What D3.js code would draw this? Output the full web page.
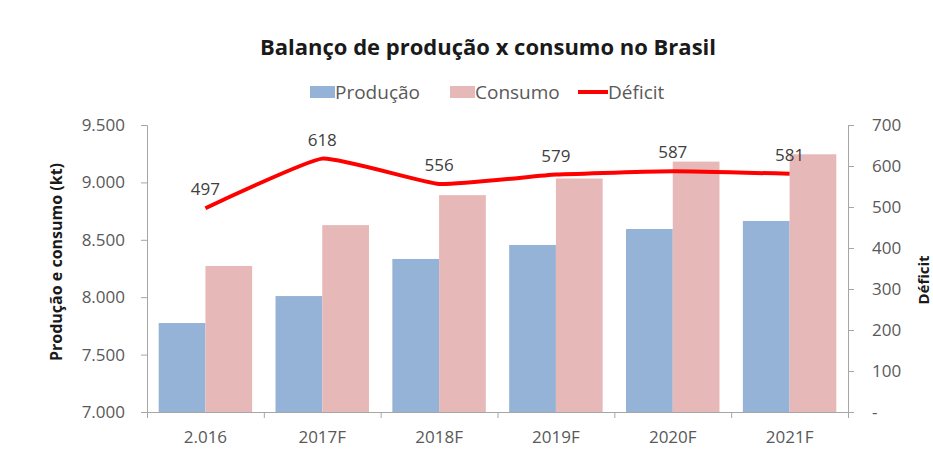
<!DOCTYPE html>
<html>
<head>
<meta charset="utf-8">
<script src="https://cdn.jsdelivr.net/npm/d3@7"></script>
<style>
  body { margin:0; background:#fff; }
  text { font-family: "Open Sans", sans-serif; }
</style>
</head>
<body>
<svg class="chart"></svg>
<script>
// data
var anos = ["2.016","2017F","2018F","2019F","2020F","2021F"];
var producao = [7775, 8010, 8333, 8455, 8594, 8664];
var consumo = [8272, 8628, 8889, 9034, 9181, 9245];
var deficit = [497, 618, 556, 579, 587, 581];
var ticksEsq = [7000, 7500, 8000, 8500, 9000, 9500];
var ticksDir = [0, 100, 200, 300, 400, 500, 600, 700];
var series = ["Produção", "Consumo"];

var W = 933, H = 452;
var plotL = 147, plotR = 848, plotT = 125, plotB = 412;
var corBar = {"Produção":"#95b3d7", "Consumo":"#e6b9b8"};
var cinza = "#595959";

var svg = d3.select(".chart").attr("width", W).attr("height", H);

var x = d3.scaleBand().domain(anos).range([plotL, plotR]).paddingInner(0.2).paddingOuter(0.1);
var xs = d3.scaleBand().domain(series).range([0, x.bandwidth()]);
var yL = d3.scaleLinear().domain([7000, 9500]).range([plotB, plotT]);
var yR = d3.scaleLinear().domain([0, 700]).range([plotB, plotT]);

// barras
var grupos = svg.selectAll("g.grupo")
  .data(anos)
  .enter().append("g")
  .attr("class","grupo")
  .attr("transform", function(d){ return "translate(" + x(d) + ",0)"; });

grupos.selectAll("rect")
  .data(function(d,i){ return [{s:"Produção", v:producao[i]}, {s:"Consumo", v:consumo[i]}]; })
  .enter().append("rect")
  .attr("x", function(d){ return xs(d.s); })
  .attr("width", xs.bandwidth())
  .attr("y", function(d){ return yL(d.v); })
  .attr("height", function(d){ return plotB - yL(d.v); })
  .attr("fill", function(d){ return corBar[d.s]; });

// eixo esquerdo
var eixoE = svg.append("g")
  .attr("transform","translate(" + plotL + ",0)")
  .call(d3.axisLeft(yL).tickValues(ticksEsq).tickSize(6).tickPadding(16)
    .tickFormat(function(d){ return d3.format(",")(d).replace(",", "."); }));
// eixo direito
var eixoD = svg.append("g")
  .attr("transform","translate(" + plotR + ",0)")
  .call(d3.axisRight(yR).tickValues(ticksDir).tickSize(6).tickPadding(18)
    .tickFormat(function(d){ return d == 0 ? "-" : d; }));
// eixo x (ticks entre as categorias)
var xPos = d3.scaleLinear().domain([0, anos.length]).range([plotL, plotR]);
var eixoX = svg.append("g")
  .attr("transform","translate(0," + plotB + ")")
  .call(d3.axisBottom(xPos).ticks(anos.length).tickSize(6).tickFormat(""));
eixoX.selectAll(".tick").filter(function(d){ return d == 0; }).remove();

[eixoE, eixoD, eixoX].forEach(function(g){
  g.selectAll("path, line").attr("stroke", "#a6a6a6");
  g.selectAll("text").attr("fill", cinza).style("font-size", "17px");
});

svg.selectAll("text.rotx")
  .data(anos)
  .enter().append("text")
  .attr("class","rotx")
  .attr("x", function(d){ return x(d) + x.bandwidth()/2; })
  .attr("y", 443)
  .attr("text-anchor","middle")
  .attr("fill", cinza)
  .style("font-size","17px")
  .text(function(d){ return d; });

// linha de deficit
var linha = d3.line()
  .x(function(d,i){ return x(anos[i]) + x.bandwidth()/2; })
  .y(function(d){ return yR(d); })
  .curve(d3.curveCardinal.tension(0.6));

svg.append("path")
  .datum(deficit)
  .attr("d", linha)
  .attr("fill","none")
  .attr("stroke","#ff0000")
  .attr("stroke-width",4)
  .attr("stroke-linejoin","round");

svg.selectAll("text.valor")
  .data(deficit)
  .enter().append("text")
  .attr("class","valor")
  .attr("x", function(d,i){ return x(anos[i]) + x.bandwidth()/2; })
  .attr("y", function(d){ return yR(d) - 13; })
  .attr("text-anchor","middle")
  .attr("fill","#404040")
  .style("font-size","17px")
  .text(function(d){ return d; });

// titulo
svg.append("text")
  .attr("x", 488).attr("y", 55)
  .attr("text-anchor","middle")
  .attr("fill","#1a1a1a")
  .style("font-size","22px").style("font-weight","bold")
  .text("Balanço de produção x consumo no Brasil");

// titulos dos eixos
svg.append("text")
  .attr("transform","translate(62,262) rotate(-90)")
  .attr("text-anchor","middle")
  .attr("fill","#1a1a1a")
  .style("font-size","16px").style("font-weight","bold")
  .text("Produção e consumo (kt)");
svg.append("text")
  .attr("transform","translate(929,280) rotate(-90)")
  .attr("text-anchor","middle")
  .attr("fill","#1a1a1a")
  .style("font-size","15px").style("font-weight","bold")
  .text("Déficit");

// legenda
var legenda = [
  {nome:"Produção", tipo:"bar", cor:corBar["Produção"], x:310},
  {nome:"Consumo", tipo:"bar", cor:corBar["Consumo"], x:450},
  {nome:"Déficit", tipo:"line", cor:"#ff0000", x:578}
];
var lg = svg.selectAll("g.leg").data(legenda).enter().append("g")
  .attr("class","leg")
  .attr("transform", function(d){ return "translate(" + d.x + ",92)"; });
lg.filter(function(d){ return d.tipo == "bar"; }).append("rect")
  .attr("x",0).attr("y",-6).attr("width",25).attr("height",12)
  .attr("fill", function(d){ return d.cor; });
lg.filter(function(d){ return d.tipo == "line"; }).append("line")
  .attr("x1",0).attr("x2",30).attr("y1",0).attr("y2",0)
  .attr("stroke", function(d){ return d.cor; }).attr("stroke-width",4);
lg.append("text")
  .attr("x", function(d){ return d.tipo == "bar" ? 25 : 30; })
  .attr("y", 7)
  .attr("fill", cinza)
  .style("font-size","19px")
  .text(function(d){ return d.nome; });
</script>
</body>
</html>
